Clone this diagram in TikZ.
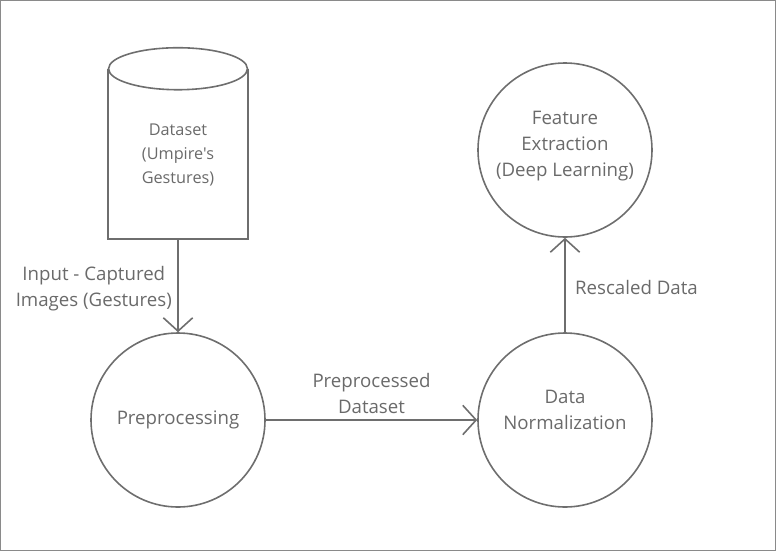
\documentclass[tikz,border=0pt]{standalone}
\usepackage{fontspec}
\setmainfont{Open Sans}[Ligatures=TeXOff]
\usepackage{tikz}
\usetikzlibrary{arrows.meta,positioning}
\definecolor{linegray}{HTML}{6E6E6E}
\definecolor{textgray}{HTML}{6A6A6A}
\definecolor{framegray}{HTML}{8A8A8A}
\tikzset{>={Straight Barb[length=10pt,width=22pt]}}

\begin{document}
\begin{tikzpicture}[x=0.75pt,y=-0.75pt]
\tikzstyle{stage}=[
    circle,
    draw=linegray, line width=1.2pt,
    minimum size=130.5pt, inner sep=0pt,
    text=textgray, align=center,
    font=\fontsize{14}{19.5}\selectfont]
\tikzstyle{lbl}=[text=textgray, align=center, font=\fontsize{14}{19.5}\selectfont]
\tikzstyle{flow}=[->, draw=linegray, line width=1.2pt]
\useasboundingbox (0,0) rectangle (776,551);
\draw[framegray, line width=0.9pt] (0.5,0.5) rectangle (775.5,550.5);
% data store
\node[minimum width=104.25pt, minimum height=126pt, inner sep=0pt,
    text=textgray, align=center, font=\fontsize{12.2}{18}\selectfont]
    (dataset) at (178,155) {Dataset\\(Umpire's\\Gestures)};
\draw[linegray, line width=1.2pt] ([yshift=1.5pt]dataset.north west) -- (dataset.south west)
    -- (dataset.south east) -- ([yshift=1.5pt]dataset.north east);
\draw[linegray, line width=1.2pt, fill=white] ([yshift=1.5pt]dataset.north) ellipse [x radius=52.1pt, y radius=15.75pt];
% stages
\node[stage] (prep) at (178,420) {Preprocessing};
\node[stage, text depth=15pt] (norm) at (565,420) {Data\\Normalization};
\node[stage, text depth=10pt] (feat) at (565,150) {Feature\\Extraction\\(Deep Learning)};
% flows
\draw[flow] (dataset.south) -- node[lbl, left, inner xsep=4pt, yshift=-2.5pt] (inlbl) {Input - Captured\\Images (Gestures)} (prep.north);
\draw[flow] (prep.east) -- node[lbl, above, inner ysep=4pt] (pdlbl) {Preprocessed\\Dataset} (norm.west);
\draw[flow] (norm.north) -- node[lbl, right, inner xsep=7pt, yshift=-2pt] (rslbl) {Rescaled Data} (feat.south);
\end{tikzpicture}
\end{document}
